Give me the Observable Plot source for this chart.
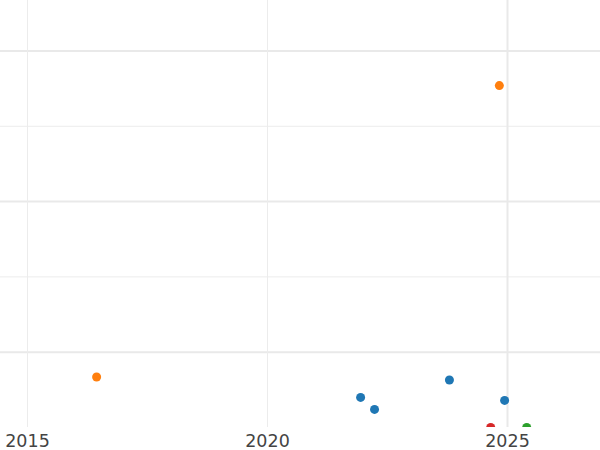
<!DOCTYPE html>
<html>
<head>
<meta charset="utf-8">
<script src="https://cdn.jsdelivr.net/npm/d3@7"></script>
<script src="https://cdn.jsdelivr.net/npm/@observablehq/plot@0.6"></script>
<style>
  html, body { margin: 0; padding: 0; background: #fff; }
  #chart svg { display: block; }
</style>
</head>
<body>
<div id="chart"></div>
<script>
// Data (y in grid units)
const years  = [2024.83, 2016.44, 2021.94, 2022.23, 2023.79, 2024.94, 2024.65, 2025.40];
const values = [4.54,    0.67,    0.40,    0.24,    0.63,    0.36,    0.0,     0.0];
const groups = ["B",     "B",     "A",     "A",     "A",     "A",     "D",     "C"];
const groupNames  = ["A", "B", "C", "D"];
const groupColors = ["#1f77b4", "#ff7f0e", "#2ca02c", "#d62728"];
const xTicks = [2015, 2020, 2025];
const xMajorGrid = [2025];
const xMinorGrid = [2015, 2020];
const yMajorGrid = [1, 3, 5];
const yMinorGrid = [2, 4];

const data = years.map((x, i) => ({x, y: values[i], g: groups[i]}));

const chart = Plot.plot({
  width: 600,
  height: 450,
  marginTop: 0,
  marginLeft: 0,
  marginRight: 0,
  marginBottom: 23,
  style: {fontFamily: "DejaVu Sans", background: "#fff"},
  x: {domain: [2014.4375, 2026.9375], label: null},
  y: {domain: [0, 5.67], label: null, axis: null},
  color: {domain: groupNames, range: groupColors},
  marks: [
    Plot.ruleY(yMinorGrid, {stroke: "#ececec", strokeWidth: 1}),
    Plot.ruleY(yMajorGrid, {stroke: "#e9e9e9", strokeWidth: 2}),
    Plot.ruleX(xMinorGrid, {stroke: "#ececec", strokeWidth: 1}),
    Plot.ruleX(xMajorGrid, {stroke: "#e9e9e9", strokeWidth: 2}),
    Plot.axisX({ticks: xTicks, tickFormat: d => String(d), tickSize: 0, tickPadding: 7, fontSize: 17.5, fill: "#444", label: null}),
    Plot.dot(data, {x: "x", y: "y", fill: "g", r: 4.5, clip: true})
  ]
});
document.getElementById("chart").appendChild(chart);
</script>
</body>
</html>
